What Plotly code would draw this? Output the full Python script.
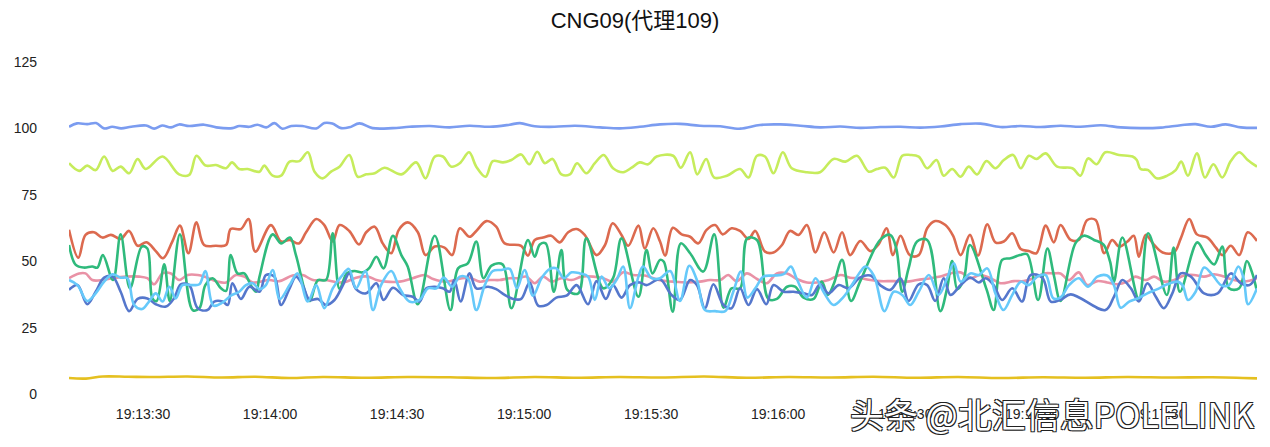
import pandas as pd
import plotly.graph_objects as go

BASE = "2023-01-01 19:13:12.5"
TITLE = "CNG09(代理109)"
WATERMARK = "头条 @北汇信息POLELINK"
Y_TICKS = [0, 25, 50, 75, 100, 125]
X_TICK_START = "2023-01-01 19:13:30"
X_END_S = 280.6

# ---- series 1: top blue (~100) ----
T_TOP = [0, 1.9, 4.3, 6.4, 8.3, 10.2, 12.3, 14.7, 18.2, 20.1, 22.0, 24.1, 26.0, 28.4, 31.9, 34.8, 38.6, 40.2,
         42.6, 44.5, 46.6, 48.5, 50.4, 52.5, 55.1, 58.4, 60.3, 62.2, 64.3, 66.2, 68.6, 71.7, 76.4, 80.4, 85.2,
         89.9, 94.6, 99.4, 104.1, 106.5, 110.0, 114.7, 119.5, 125.4, 130.1, 134.8, 139.6, 144.3, 149.0, 153.8,
         158.5, 163.2, 168.0, 172.7, 177.4, 182.2, 186.9, 191.6, 196.4, 201.1, 205.8, 210.6, 215.3, 220.0,
         224.7, 229.5, 234.2, 238.9, 243.7, 248.4, 253.1, 257.9, 262.6, 266.1, 269.7, 273.2, 276.8, 280.6]
V_TOP = [100.6, 101.9, 101.6, 102.0, 100.0, 100.6, 100.0, 100.6, 101.1, 99.9, 101.1, 100.4, 101.5, 100.9, 101.4,
         100.4, 100.1, 100.9, 100.6, 101.4, 100.4, 102.0, 99.9, 100.9, 100.9, 100.0, 102.0, 101.8, 100.1, 100.4,
         101.9, 100.1, 100.1, 100.6, 100.9, 100.4, 101.0, 100.6, 101.4, 102.0, 100.8, 100.6, 101.0, 100.4, 100.0,
         100.6, 101.5, 101.7, 101.0, 100.8, 99.9, 101.3, 101.5, 101.0, 100.4, 100.7, 100.2, 100.5, 100.6, 100.3,
         100.7, 101.6, 101.8, 100.5, 100.9, 100.5, 101.0, 100.6, 101.2, 100.4, 100.1, 100.3, 101.2, 101.6, 100.6,
         101.5, 100.4, 100.2]

# ---- series 2: light green (~85) ----
T_LG = [0, 2.4, 4.3, 6.3, 8.3, 10.3, 12.2, 14.2, 16.2, 18.1, 22.1, 26.0, 28.4, 30.1, 32.3, 34.7, 37.1, 38.5, 40.2,
        42.2, 45.0, 46.1, 48.1, 50.1, 52.1, 54.4, 56.4, 58.0, 59.9, 61.9, 63.9, 66.2, 68.2, 70.2, 72.2, 74.5,
        78.5, 82.0, 84.2, 86.4, 88.3, 90.3, 92.3, 94.5, 96.2, 98.4, 100.1, 102.5, 104.5, 106.8, 108.7, 110.6,
        112.4, 114.2, 116.3, 118.3, 120.0, 122.2, 124.2, 126.3, 128.5, 130.9, 132.9, 134.8, 136.8, 138.8, 142.7,
        144.5, 146.7, 148.4, 150.5, 152.4, 155.4, 158.5, 160.5, 162.5, 164.4, 166.4, 168.6, 170.7, 174.3, 177.4,
        180.6, 183.4, 186.1, 188.9, 190.8, 192.8, 194.8, 196.8, 198.7, 200.7, 202.7, 204.9, 206.6, 208.6, 210.6,
        212.5, 214.5, 216.7, 218.8, 220.8, 223.0, 224.8, 226.7, 228.5, 230.7, 233.4, 237.0, 238.9, 240.7, 242.7,
        244.8, 248.0, 251.2, 252.2, 253.1, 254.9, 256.9, 259.4, 261.4, 262.7, 264.3, 266.4, 268.3, 270.3, 272.4,
        274.4, 276.4, 278.4, 280.6]
V_LG = [86.9, 84.0, 86.0, 84.3, 89.4, 84.0, 85.6, 83.1, 88.5, 84.7, 89.4, 82.7, 82.5, 89.7, 86.0, 86.2, 85.0, 87.2,
        84.7, 84.7, 83.7, 86.0, 82.2, 82.2, 87.5, 87.7, 91.0, 83.7, 81.2, 83.7, 85.6, 90.0, 81.8, 82.7, 83.1, 85.2,
        82.7, 87.2, 81.2, 89.4, 89.4, 85.6, 86.9, 91.0, 85.6, 81.8, 87.7, 87.2, 88.1, 90.2, 86.5, 91.2, 86.9, 88.5,
        82.7, 82.7, 86.9, 83.1, 86.9, 90.0, 85.0, 83.5, 85.2, 87.2, 86.5, 89.4, 89.7, 85.2, 91.0, 82.7, 88.5, 81.5,
        82.2, 84.7, 81.5, 89.7, 89.4, 83.1, 91.0, 85.0, 83.5, 83.5, 88.5, 87.5, 89.7, 83.7, 84.7, 85.2, 81.5, 89.7,
        90.0, 89.4, 85.0, 88.1, 82.2, 84.7, 81.8, 85.6, 82.7, 87.7, 85.0, 88.1, 90.0, 85.0, 89.7, 88.5, 90.6, 85.6,
        85.0, 82.2, 88.7, 86.5, 91.0, 90.0, 89.4, 88.1, 84.7, 84.3, 81.2, 82.2, 84.3, 87.5, 82.2, 90.6, 81.5, 86.5,
        81.5, 87.7, 91.0, 88.1, 85.6]

# ---- series 3: red (~58) ----
T_RED = [0, 2.2, 3.9, 5.9, 7.9, 9.9, 12.2, 14.2, 16.2, 18.3, 20.5, 22.2, 24.4, 26.2, 28.2, 30.1, 31.9, 34.7, 37.1,
         38.2, 40.6, 42.4, 44.0, 47.7, 50.1, 52.1, 54.3, 56.0, 58.4, 60.3, 62.3, 63.9, 66.2, 68.5, 70.2, 72.2, 74.1,
         76.1, 77.9, 80.0, 82.4, 84.2, 86.4, 88.7, 90.5, 92.3, 94.6, 96.2, 98.6, 100.9, 102.9, 106.8, 108.4, 110.0,
         112.0, 113.9, 115.9, 117.9, 119.9, 121.8, 124.6, 126.6, 128.4, 130.5, 132.1, 134.5, 136.0, 138.0, 139.6,
         140.8, 142.6, 144.7, 146.7, 148.6, 150.6, 152.6, 154.4, 156.5, 158.5, 160.5, 162.1, 164.4, 166.4, 168.4,
         170.3, 172.3, 174.3, 176.3, 178.4, 180.6, 182.6, 184.5, 186.9, 189.3, 191.2, 193.1, 194.6, 196.4, 198.6,
         200.7, 202.7, 204.6, 207.0, 208.8, 210.6, 212.8, 214.7, 216.9, 218.8, 220.8, 222.8, 224.8, 226.7, 228.5,
         230.7, 232.6, 234.2, 236.6, 238.5, 240.5, 242.5, 244.5, 246.4, 248.0, 250.0, 251.5, 252.7, 254.3, 256.3,
         258.3, 261.0, 262.6, 264.6, 266.4, 268.9, 270.9, 272.4, 274.4, 276.4, 278.4, 280.6]
V_RED = [61.8, 51.3, 59.9, 60.9, 58.9, 59.9, 58.4, 61.4, 55.8, 57.1, 53.8, 51.1, 57.4, 63.4, 53.0, 64.6, 56.1, 55.8,
         56.1, 62.1, 62.1, 65.9, 53.6, 63.6, 57.4, 58.0, 56.7, 60.9, 65.9, 63.6, 57.4, 63.6, 61.4, 56.3, 60.9, 63.0,
         56.7, 53.0, 61.8, 64.6, 60.9, 52.3, 55.5, 55.1, 52.3, 62.4, 59.2, 61.4, 65.1, 63.0, 56.7, 55.8, 52.1, 58.0,
         58.9, 59.6, 57.1, 60.9, 62.1, 59.9, 52.3, 56.1, 64.3, 59.9, 55.8, 63.4, 54.8, 62.4, 57.4, 52.1, 62.6, 60.1,
         59.2, 56.7, 61.8, 63.6, 60.1, 62.4, 61.4, 58.4, 61.4, 53.6, 53.3, 56.1, 61.4, 59.9, 63.6, 53.3, 60.9, 53.3,
         60.9, 52.3, 57.6, 53.8, 56.3, 62.4, 52.3, 59.6, 52.3, 52.3, 62.4, 65.1, 63.6, 59.6, 52.3, 59.9, 52.1, 63.9,
         57.1, 57.4, 60.5, 54.6, 53.8, 53.0, 63.4, 57.1, 63.6, 58.0, 58.0, 65.5, 65.5, 53.0, 58.0, 55.5, 57.4, 59.6,
         51.7, 59.9, 56.1, 53.3, 53.3, 58.6, 65.9, 60.1, 58.9, 55.1, 52.3, 55.8, 52.3, 60.9, 57.6]

# ---- series 4: green (volatile) ----
T_GRN = [0, 1.6, 3.5, 5.5, 6.7, 8.0, 10.4, 12.2, 14.4, 17.2, 18.5, 19.7, 20.7, 22.5, 23.8, 26.2, 29.2, 30.8, 32.2,
         33.9, 35.9, 37.1, 38.2, 39.8, 41.4, 43.0, 44.2, 45.0, 48.1, 50.1, 52.2, 53.6, 56.8, 58.8, 60.7, 62.3, 63.9,
         65.6, 67.4, 69.4, 71.0, 72.6, 74.3, 76.5, 78.5, 80.0, 82.4, 86.4, 90.1, 91.9, 94.2, 96.2, 97.9, 99.8,
         102.4, 104.5, 108.4, 110.0, 111.2, 112.6, 114.5, 116.3, 117.7, 120.3, 122.2, 126.2, 128.5, 130.5, 134.5,
         136.4, 137.8, 139.6, 140.5, 142.6, 144.5, 146.7, 149.8, 152.4, 154.6, 156.5, 158.5, 160.2, 162.5, 165.2,
         167.2, 169.6, 171.5, 173.5, 175.9, 177.8, 179.2, 180.6, 182.6, 184.7, 186.9, 191.6, 194.0, 195.4, 196.8,
         198.3, 200.3, 202.7, 205.8, 207.4, 208.6, 209.8, 211.3, 212.8, 216.7, 218.4, 220.4, 222.4, 224.6, 226.3,
         228.9, 231.1, 232.6, 234.2, 237.7, 239.7, 242.1, 244.3, 245.9, 246.8, 248.8, 252.7, 254.9, 259.3, 260.9,
         262.4, 266.5, 268.5, 270.5, 272.4, 274.0, 276.4, 278.2, 279.5, 280.6]
V_GRN = [56.1, 48.6, 47.6, 48.0, 47.6, 52.3, 42.9, 60.1, 39.8, 55.5, 54.8, 36.0, 35.0, 48.8, 35.0, 60.1, 31.6, 32.3,
         41.0, 43.6, 39.8, 38.8, 52.3, 45.4, 45.4, 40.8, 38.5, 44.2, 60.1, 56.7, 58.9, 52.3, 35.0, 42.9, 42.9, 60.5,
         39.5, 45.4, 46.3, 45.8, 47.6, 51.7, 47.3, 59.6, 52.3, 48.0, 33.8, 59.6, 31.6, 47.3, 49.2, 57.4, 43.6, 48.3,
         48.8, 32.3, 58.0, 51.7, 56.3, 56.7, 38.5, 54.2, 39.2, 37.9, 58.6, 39.8, 43.6, 58.6, 36.6, 54.2, 45.4, 50.5,
         49.8, 31.0, 56.7, 53.0, 46.1, 60.1, 32.5, 39.8, 39.8, 58.6, 58.0, 35.8, 35.8, 40.4, 40.4, 36.3, 35.8, 42.3,
         37.3, 41.3, 50.5, 35.0, 42.5, 58.0, 59.9, 54.8, 38.5, 47.3, 57.4, 58.0, 31.2, 39.8, 50.1, 39.5, 42.9, 56.1,
         39.5, 31.6, 50.5, 51.1, 52.3, 52.6, 35.4, 54.8, 44.8, 35.0, 56.7, 59.6, 58.0, 56.3, 49.8, 42.3, 58.9, 35.8,
         60.5, 37.3, 55.1, 38.5, 57.1, 52.3, 48.8, 55.5, 39.8, 39.8, 50.1, 45.4, 38.5]

# ---- series 5: pink (~43) ----
T_PNK = [0, 2.4, 3.9, 5.5, 7.9, 10.3, 13.4, 16.6, 18.5, 20.1, 22.1, 24.1, 26.0, 28.0, 30.4, 32.7, 34.7, 37.1, 39.4,
         41.4, 43.4, 47.3, 49.7, 52.8, 55.2, 57.6, 60.7, 63.5, 65.5, 67.8, 70.6, 72.6, 74.9, 78.1, 81.2, 84.0, 86.0,
         89.1, 92.3, 94.6, 97.0, 99.4, 101.7, 104.1, 106.1, 108.0, 110.0, 112.0, 114.0, 116.3, 118.7, 121.1, 123.8,
         126.2, 128.5, 130.9, 133.3, 136.0, 139.6, 142.7, 145.9, 149.0, 151.4, 153.8, 155.7, 157.7, 160.1, 162.5,
         164.8, 167.2, 169.6, 171.9, 174.3, 176.6, 179.4, 182.2, 184.5, 186.9, 189.3, 191.6, 194.8, 197.9, 200.3,
         203.5, 205.8, 208.2, 210.6, 212.9, 215.3, 217.7, 220.0, 223.2, 225.5, 227.9, 230.3, 232.6, 234.2, 236.2,
         238.5, 240.5, 242.9, 245.2, 247.6, 250.0, 251.9, 254.3, 256.3, 258.6, 261.0, 263.4, 265.7, 268.1, 270.5,
         272.8, 275.2, 277.6, 280.6]
V_PNK = [43.6, 45.4, 45.4, 42.9, 42.9, 43.6, 44.2, 44.2, 43.6, 41.3, 45.4, 45.4, 42.9, 44.8, 44.8, 43.8, 42.5, 42.0,
         44.8, 44.2, 42.0, 42.9, 42.5, 44.6, 44.8, 42.9, 42.9, 42.0, 42.3, 43.8, 44.2, 42.9, 42.3, 42.3, 43.6, 44.8,
         43.3, 42.3, 43.4, 43.8, 42.3, 42.9, 42.9, 43.6, 43.6, 44.2, 41.7, 44.2, 42.3, 43.6, 42.9, 44.2, 44.2, 43.6,
         42.3, 45.8, 44.8, 44.6, 42.8, 42.3, 42.0, 42.3, 42.9, 42.9, 44.8, 42.5, 45.4, 43.3, 41.7, 45.4, 45.4, 43.3,
         42.0, 42.0, 42.9, 44.8, 43.8, 43.6, 42.9, 42.5, 42.5, 42.3, 42.9, 43.6, 44.2, 45.4, 45.8, 43.6, 44.8, 43.6,
         41.7, 42.5, 42.5, 43.6, 45.4, 45.4, 45.4, 42.9, 45.8, 41.0, 42.5, 42.0, 41.3, 42.3, 44.2, 42.9, 44.2, 42.3,
         42.9, 44.6, 44.8, 44.2, 45.1, 44.2, 42.9, 42.3, 43.6]

# ---- series 6: dark blue (~38) ----
T_DBL = [0, 2.0, 4.3, 6.3, 8.3, 10.3, 12.2, 14.2, 16.2, 18.5, 20.5, 22.9, 24.8, 26.4, 28.4, 30.4, 32.7, 34.3, 36.3,
         37.5, 38.6, 40.6, 42.6, 45.0, 46.5, 48.5, 50.1, 52.1, 53.6, 55.2, 56.8, 58.8, 60.7, 62.7, 64.7, 66.2, 67.8,
         70.2, 72.6, 74.3, 76.5, 78.9, 81.2, 82.8, 84.4, 86.4, 88.3, 89.9, 91.0, 92.5, 94.6, 96.2, 99.0, 100.9,
         102.9, 104.9, 106.8, 108.8, 110.8, 112.8, 115.1, 117.5, 119.9, 122.6, 124.6, 126.8, 128.5, 130.5, 132.5,
         134.8, 136.4, 139.6, 142.3, 144.3, 146.7, 148.3, 150.2, 152.2, 154.6, 156.5, 158.5, 160.5, 162.5, 164.7,
         166.4, 168.8, 171.1, 173.5, 175.5, 177.4, 179.4, 181.8, 184.1, 186.9, 189.3, 191.6, 194.0, 196.4, 198.3,
         200.7, 202.7, 204.6, 206.6, 208.2, 210.6, 212.9, 214.9, 216.5, 218.4, 220.4, 222.8, 225.1, 227.1, 229.9,
         231.9, 234.2, 236.6, 244.8, 246.8, 248.8, 250.8, 252.7, 254.7, 256.7, 258.6, 260.6, 262.6, 265.0, 268.1,
         271.3, 274.4, 276.8, 278.8, 280.6]
V_DBL = [39.2, 41.0, 33.8, 38.5, 43.8, 44.2, 38.5, 31.2, 35.8, 36.0, 33.8, 32.9, 36.0, 41.3, 41.0, 32.3, 31.6, 34.8,
         34.8, 33.5, 41.7, 35.8, 40.4, 38.5, 44.8, 44.2, 33.5, 39.8, 44.2, 41.0, 35.4, 35.8, 33.5, 35.4, 41.0, 45.4,
         39.5, 37.9, 41.7, 35.4, 40.0, 37.3, 36.6, 34.8, 39.8, 40.4, 39.8, 38.5, 42.9, 34.8, 45.4, 39.8, 40.4, 39.5,
         37.3, 35.8, 35.8, 42.0, 33.3, 33.5, 36.3, 37.0, 41.0, 33.8, 42.5, 35.8, 41.0, 36.3, 41.0, 42.0, 41.0, 43.2,
         37.3, 35.4, 42.9, 41.0, 32.3, 41.3, 33.5, 32.3, 39.8, 33.5, 39.5, 33.8, 41.0, 38.5, 38.5, 37.9, 37.3, 41.3,
         37.9, 41.0, 39.8, 43.9, 44.6, 41.0, 39.2, 43.6, 35.0, 41.3, 41.0, 35.0, 43.6, 37.3, 41.0, 43.8, 42.0, 43.6,
         41.0, 35.4, 39.8, 34.8, 44.8, 43.8, 34.8, 35.5, 37.5, 31.6, 36.6, 42.9, 39.8, 34.8, 41.7, 36.6, 32.3, 37.9,
         45.4, 44.2, 37.9, 37.9, 45.4, 41.7, 41.0, 44.8]

# ---- series 7: light blue (~40) ----
T_LBL = [0, 2.0, 4.3, 6.3, 8.3, 10.3, 12.2, 13.8, 15.4, 17.3, 18.9, 20.5, 22.1, 23.7, 25.2, 26.8, 29.2, 30.8, 32.2,
         34.1, 36.3, 38.2, 40.2, 41.8, 43.4, 45.0, 46.5, 48.1, 49.8, 52.1, 54.0, 56.4, 58.4, 60.3, 62.3, 64.3, 66.1,
         67.8, 70.0, 71.8, 73.7, 76.1, 78.1, 80.4, 82.8, 84.8, 86.8, 88.5, 90.5, 92.3, 94.2, 96.2, 98.2, 100.1,
         102.1, 104.1, 105.8, 107.6, 109.6, 111.6, 113.6, 115.1, 116.9, 118.7, 120.7, 122.6, 124.2, 125.8, 127.6,
         129.3, 130.9, 132.5, 134.5, 135.6, 137.6, 139.6, 142.0, 144.3, 146.5, 148.4, 150.2, 152.6, 155.0, 156.9,
         158.7, 160.2, 162.1, 164.0, 166.4, 168.8, 170.5, 171.9, 174.3, 176.3, 178.2, 180.6, 182.8, 184.9, 186.9,
         188.1, 190.1, 192.6, 194.8, 196.8, 198.7, 200.7, 203.1, 205.4, 207.4, 209.0, 210.6, 212.9, 214.9, 216.9,
         218.8, 220.7, 222.8, 224.8, 226.7, 228.7, 230.7, 232.5, 234.2, 236.2, 238.5, 240.7, 242.9, 245.2, 246.8,
         248.4, 250.4, 252.5, 254.7, 257.1, 259.4, 261.8, 263.0, 264.3, 266.1, 268.1, 270.1, 272.1, 274.0, 276.2,
         277.4, 278.5, 280.6]
V_LBL = [42.9, 41.0, 35.0, 37.9, 42.3, 45.1, 43.8, 43.6, 33.5, 32.0, 34.8, 37.9, 34.8, 40.4, 36.0, 41.0, 41.0, 41.3,
         46.3, 33.3, 34.5, 37.0, 38.5, 41.0, 41.7, 39.5, 41.0, 46.7, 35.8, 41.0, 45.4, 34.8, 41.0, 32.3, 39.8, 44.2,
         47.1, 39.8, 46.3, 31.6, 41.0, 46.3, 39.8, 34.8, 35.4, 39.8, 39.8, 43.8, 40.4, 44.2, 43.6, 31.6, 41.0, 46.3,
         46.7, 47.1, 39.8, 46.7, 37.0, 43.6, 47.1, 47.3, 43.6, 45.8, 45.4, 44.2, 35.4, 44.2, 39.8, 42.9, 48.0, 32.3,
         44.2, 48.0, 43.6, 43.6, 46.3, 35.0, 48.3, 42.5, 31.6, 31.2, 31.2, 38.5, 46.1, 36.3, 39.8, 44.2, 44.6, 45.1,
         48.0, 43.3, 36.3, 43.6, 38.5, 33.5, 36.3, 41.0, 46.0, 48.0, 44.6, 31.2, 38.5, 37.3, 33.5, 38.5, 44.8, 37.3,
         43.6, 49.2, 42.3, 45.4, 44.8, 47.3, 37.9, 31.6, 37.3, 42.3, 41.0, 44.2, 44.8, 36.0, 36.4, 41.0, 43.6, 40.4,
         44.2, 44.6, 41.0, 32.5, 34.8, 36.0, 37.9, 39.5, 41.3, 42.3, 41.0, 35.4, 38.5, 47.6, 44.8, 41.0, 41.0, 48.0,
         43.8, 33.8, 39.8]

# ---- series 8: yellow (~6) ----
T_YEL = [0, 4, 8, 14, 20, 28, 36, 44, 52, 60, 70, 80, 90, 100, 110, 120, 130, 140, 150, 160, 170, 180, 190, 200,
         210, 220, 230, 240, 250, 260, 270, 280.6]
V_YEL = [6.0, 5.8, 6.6, 6.5, 6.4, 6.6, 6.2, 6.5, 6.0, 6.4, 6.1, 6.4, 6.3, 6.0, 6.4, 6.1, 6.4, 6.2, 6.6, 6.1, 6.4,
         6.2, 6.5, 6.1, 6.4, 6.0, 6.3, 6.1, 6.4, 6.2, 6.3, 5.9]

SERIES = [
    ("top", T_TOP, V_TOP, "#7b9cf0"),
    ("lightgreen", T_LG, V_LG, "#c6ec5c"),
    ("red", T_RED, V_RED, "#dc6a4f"),
    ("pink", T_PNK, V_PNK, "#e992a6"),
    ("green", T_GRN, V_GRN, "#2fba7c"),
    ("darkblue", T_DBL, V_DBL, "#5577cc"),
    ("lightblue", T_LBL, V_LBL, "#66c9fa"),
    ("yellow", T_YEL, V_YEL, "#e5c020"),
]

base = pd.Timestamp(BASE)


def to_time(secs):
    return base + pd.to_timedelta(secs, unit="s")


fig = go.Figure()
for name, t, v, color in SERIES:
    fig.add_trace(go.Scatter(
        x=to_time(t), y=v, mode="lines", name=name,
        line=dict(color=color, width=2.6, shape="spline", smoothing=1.0),
        hoverinfo="skip", showlegend=False,
    ))

FONT = "Liberation Sans, Noto Sans CJK SC, sans-serif"

fig.update_layout(
    width=1270, height=447,
    margin=dict(l=69, r=13, t=62, b=53),
    paper_bgcolor="white", plot_bgcolor="white",
    font=dict(family=FONT, size=14, color="#222"),
    title=dict(text=TITLE, x=0.5, xanchor="center", y=1 - 20 / 447, yanchor="middle",
               yref="container", font=dict(size=22, color="#111", family=FONT)),
    showlegend=False,
)
fig.update_xaxes(
    type="date",
    range=[to_time(0), to_time(X_END_S)],
    tick0=X_TICK_START, dtick=30000, tickformat="%H:%M:%S",
    showgrid=False, zeroline=False, showline=False, ticks="",
    tickfont=dict(size=14, color="#222"), ticklabelstandoff=10,
)
fig.update_yaxes(
    range=[0, 125], tickvals=Y_TICKS,
    showgrid=False, zeroline=False, showline=False, ticks="",
    tickfont=dict(size=14, color="#222"), ticklabelstandoff=31,
)
fig.add_annotation(
    text=WATERMARK, xref="paper", yref="paper",
    x=(1256 - 69) / 1188, y=(394 - 413) / 332, xanchor="right", yanchor="middle",
    showarrow=False,
    font=dict(size=34, color="white", family="Noto Sans CJK SC, sans-serif",
              shadow="-1px -1px 0 #222, 1px -1px 0 #222, -1px 1px 0 #222, 1px 1px 0 #222"),
)

fig.write_html("out.html")
